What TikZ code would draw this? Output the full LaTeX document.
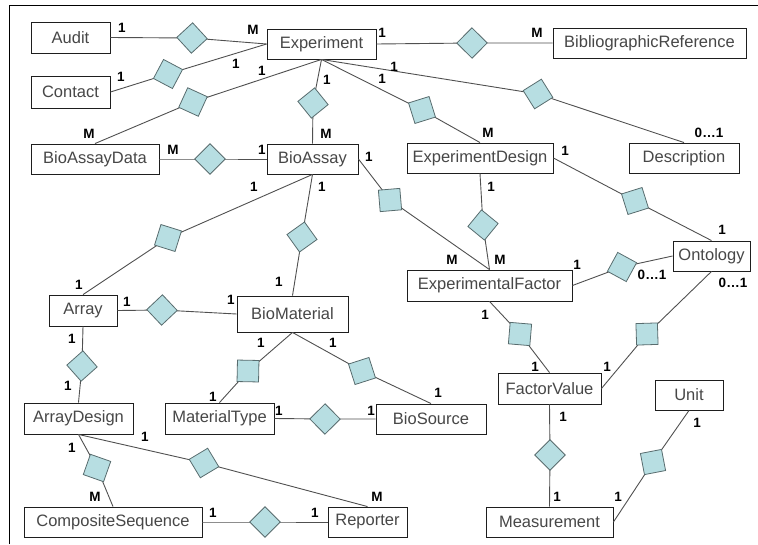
\documentclass[tikz,border=0pt]{standalone}
\usepackage{fontspec}
\setmainfont{Liberation Sans}
\usetikzlibrary{calc}

\definecolor{relfill}{RGB}{183,222,226}
\definecolor{reldraw}{RGB}{88,108,110}
\definecolor{linkgray}{RGB}{80,80,80}
\definecolor{entdraw}{RGB}{30,30,30}

\tikzset{
  ent/.style={draw=entdraw, line width=0.9pt, fill=white, inner sep=0pt,
    text=black!72, font=\fontsize{16.5}{18}\selectfont},
  card/.style={inner sep=0pt, text=black, font=\fontsize{13.5}{15}\selectfont\bfseries},
  link/.style={draw=linkgray, line width=0.9pt},
  relbox/.style={draw=reldraw, fill=relfill, line width=0.8pt,
    minimum size=21.5pt, inner sep=0pt},
  frame/.style={draw=black, line width=1pt},
}

% entity box given by its corners: name, x1, y1, x2, y2, text
\newcommand\entity[6]{%
  \node[ent, minimum width={(#4-#2)*1pt}, minimum height={(#5-#3)*1pt}]
    (#1) at ({(#2+#4)/2},{(#3+#5)/2}) {#6};}

% relationship: name, from anchor, diamond position, to anchor
\newcommand\relation[4]{%
  \coordinate (#1) at (#3);
  \draw[link] (#2) -- (#1) -- (#4);
  \path let \p1=($(#4)-(#2)$), \n1={atan2(\y1,\x1)+45} in
    node[relbox, rotate=\n1] (#1-box) at (#1) {};}

% cardinality label: name, position, text
\newcommand\card[3]{\node[card] (#1) at (#2) {#3};}

\begin{document}
\begin{tikzpicture}[x=1pt, y=-1pt]
\useasboundingbox (0,0) rectangle (758,544);

% outer frame (top and left edges)
\draw[frame] (9,544) coordinate (fbl) -- (9,5) coordinate (ftl) -- (758,5) coordinate (ftr);

% entities
\entity{audit}{31}{22}{110}{53}{Audit}
\entity{exp}{267}{29}{376}{59}{Experiment}
\entity{bib}{553}{28}{746}{58}{BibliographicReference}
\entity{contact}{31}{76}{110}{108}{Contact}
\entity{bad}{31}{144}{159}{174}{BioAssayData}
\entity{ba}{267}{144}{358}{174}{BioAssay}
\entity{ed}{407}{143}{553}{173}{ExperimentDesign}
\entity{desc}{629}{143}{739}{173}{Description}
\entity{ont}{673}{241}{750}{271}{Ontology}
\entity{ef}{407}{270}{572}{301}{ExperimentalFactor}
\entity{array}{49}{295}{117}{326}{Array}
\entity{bm}{237}{296}{348}{332}{BioMaterial}
\entity{fv}{498}{373}{601}{404}{FactorValue}
\entity{unit}{655}{380}{723}{410}{Unit}
\entity{ad}{24}{403}{133}{434}{ArrayDesign}
\entity{mt}{165}{403}{274}{434}{MaterialType}
\entity{bs}{376}{404}{486}{434}{BioSource}
\entity{cs}{24}{507}{202}{537}{CompositeSequence}
\entity{rep}{328}{507}{407}{537}{Reporter}
\entity{meas}{486}{507}{613}{537}{Measurement}

% relationships
\relation{rAudit}{audit.east}{192,38}{exp.west}
\relation{rContact}{contact.east}{168,74}{exp.west}
\relation{rBad}{bad.north}{193,102}{exp.south}
\relation{rBa}{exp.south}{313,103}{ba.north}
\relation{rEd}{exp.south}{422,110}{ed.north}
\relation{rDesc}{exp.south}{538,94}{desc.north}
\relation{rBib}{exp.east}{472,43}{bib.west}
\relation{rBadBa}{bad.east}{210,159}{ba.west}
\relation{rArray}{ba.south}{168,238}{array.north}
\relation{rBm}{ba.south}{302,237}{bm.north}
\relation{rBaEf}{ba.east}{390,200}{ef.north}
\relation{rEdEf}{ed.south}{483,225}{ef.north}
\relation{rEdOnt}{ed.east}{635,201}{ont.north}
\relation{rEfOnt}{ef.east}{622,267}{ont.west}
\relation{rEfFv}{ef.south}{520,334}{fv.north}
\relation{rOntFv}{ont.south}{647,334}{fv.east}
\relation{rArrBm}{array.east}{162,310}{bm.west}
\relation{rArrAd}{array.south}{82,366}{ad.north}
\relation{rBmMt}{bm.south}{248,371}{mt.north}
\relation{rBmBs}{bm.south}{362,371}{bs.north}
\relation{rMtBs}{mt.east}{325,419}{bs.west}
\relation{rAdCs}{ad.south}{97,468}{cs.north}
\relation{rAdRep}{ad.south}{204,463}{rep.north}
\relation{rCsRep}{cs.east}{265,522}{rep.west}
\relation{rFvMeas}{fv.south}{550,455}{meas.north}
\relation{rUnitMeas}{unit.south}{653,462}{meas.east}

% cardinalities
\card{c1}{122,28}{1}      \card{c2}{253,30}{M}
\card{c3}{121,77}{1}      \card{c4}{236,64}{1}
\card{c5}{89,134}{M}      \card{c6}{262,71}{1}
\card{c7}{327,80}{1}      \card{c8}{326,134}{M}
\card{c9}{382,79}{1}      \card{c10}{488,133}{M}
\card{c11}{394,67}{1}     \card{c12}{709,133}{0\ldots1}
\card{c13}{382,33}{1}     \card{c14}{537,33}{M}
\card{c15}{173,150}{M}    \card{c16}{262,150}{1}
\card{c17}{254,187}{1}    \card{c18}{79,285}{1}
\card{c19}{322,187}{1}    \card{c20}{279,282}{1}
\card{c21}{369,157}{1}    \card{c22}{452,260}{M}
\card{c23}{491,187}{1}    \card{c24}{500,260}{M}
\card{c25}{565,151}{1}    \card{c26}{722,230}{1}
\card{c27}{577,265}{1}    \card{c28}{652,275}{0\ldots1}
\card{c29}{485,315}{1}    \card{c30}{535,367}{1}
\card{c31}{733,283}{0\ldots1}  \card{c32}{607,367}{1}
\card{c33}{127,302}{1}    \card{c34}{231,300}{1}
\card{c35}{72,339}{1}     \card{c36}{68,386}{1}
\card{c37}{261,343}{1}    \card{c38}{213,397}{1}
\card{c39}{333,343}{1}    \card{c40}{438,393}{1}
\card{c41}{279,411}{1}    \card{c42}{371,411}{1}
\card{c43}{72,448}{1}     \card{c44}{95,497}{M}
\card{c45}{145,437}{1}    \card{c46}{377,497}{M}
\card{c47}{213,513}{1}    \card{c48}{315,513}{1}
\card{c49}{563,417}{1}    \card{c50}{557,497}{1}
\card{c51}{697,423}{1}    \card{c52}{618,497}{1}
\end{tikzpicture}
\end{document}
